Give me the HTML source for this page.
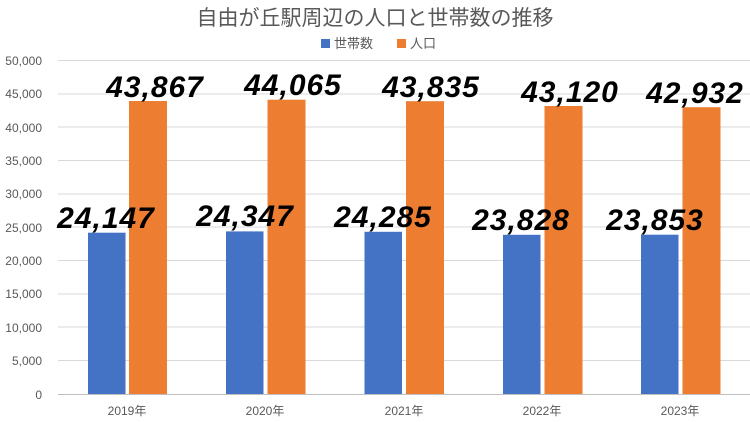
<!DOCTYPE html>
<html><head><meta charset="utf-8"><style>body{margin:0;background:#fff}svg{display:block}</style></head><body>
<svg width="750" height="422" xmlns="http://www.w3.org/2000/svg" font-family="'Liberation Sans','Noto Sans CJK JP',sans-serif">
<rect width="750" height="422" fill="#fff"/>
<text x="375" y="25" text-anchor="middle" font-size="21" fill="#595959">自由が丘駅周辺の人口と世帯数の推移</text>
<rect x="321" y="39" width="9" height="9" fill="#4472C4"/>
<text x="334" y="48" font-size="13" fill="#595959">世帯数</text>
<rect x="397" y="39" width="9" height="9" fill="#ED7D31"/>
<text x="410" y="48" font-size="13" fill="#595959">人口</text>
<g stroke="#d9d9d9" stroke-width="1">
<line x1="58" x2="750" y1="60.5" y2="60.5"/><line x1="58" x2="750" y1="94" y2="94"/><line x1="58" x2="750" y1="127" y2="127"/><line x1="58" x2="750" y1="160.5" y2="160.5"/><line x1="58" x2="750" y1="194" y2="194"/><line x1="58" x2="750" y1="227" y2="227"/><line x1="58" x2="750" y1="260.5" y2="260.5"/><line x1="58" x2="750" y1="294" y2="294"/><line x1="58" x2="750" y1="327" y2="327"/><line x1="58" x2="750" y1="360.5" y2="360.5"/>
</g>
<line x1="58" x2="750" y1="394.5" y2="394.5" stroke="#bfbfbf"/>
<g font-size="12" fill="#595959" text-anchor="end">
<text x="42" y="65">50,000</text><text x="42" y="98">45,000</text><text x="42" y="132">40,000</text><text x="42" y="165">35,000</text><text x="42" y="198">30,000</text><text x="42" y="232">25,000</text><text x="42" y="265">20,000</text><text x="42" y="298">15,000</text><text x="42" y="332">10,000</text><text x="42" y="365">5,000</text><text x="42" y="399">0</text>
</g>
<g>
<rect x="88" y="232.7" width="37.5" height="161.3" fill="#4472C4"/><rect x="129" y="101" width="38" height="293" fill="#ED7D31"/>
<rect x="226" y="231.4" width="37.5" height="162.6" fill="#4472C4"/><rect x="267.5" y="99.7" width="38" height="294.3" fill="#ED7D31"/>
<rect x="364.5" y="231.8" width="37.5" height="162.2" fill="#4472C4"/><rect x="406" y="101.2" width="38" height="292.8" fill="#ED7D31"/>
<rect x="503" y="234.8" width="37.5" height="159.2" fill="#4472C4"/><rect x="544.5" y="106" width="38" height="288" fill="#ED7D31"/>
<rect x="641" y="234.7" width="37.5" height="159.3" fill="#4472C4"/><rect x="682.5" y="107.2" width="38" height="286.8" fill="#ED7D31"/>
</g>
<g font-size="30" font-weight="bold" font-style="italic" fill="#000" text-anchor="middle" letter-spacing="1">
<text x="106" y="228">24,147</text><text x="155" y="97">43,867</text>
<text x="245" y="226">24,347</text><text x="293" y="95">44,065</text>
<text x="383" y="227">24,285</text><text x="431" y="97">43,835</text>
<text x="521" y="230">23,828</text><text x="570" y="102">43,120</text>
<text x="655" y="230">23,853</text><text x="695" y="103">42,932</text>
</g>
<g font-size="12" fill="#595959" text-anchor="middle">
<text x="127" y="415">2019年</text><text x="265" y="415">2020年</text><text x="404" y="415">2021年</text><text x="542" y="415">2022年</text><text x="680" y="415">2023年</text>
</g>
</svg>
</body></html>
